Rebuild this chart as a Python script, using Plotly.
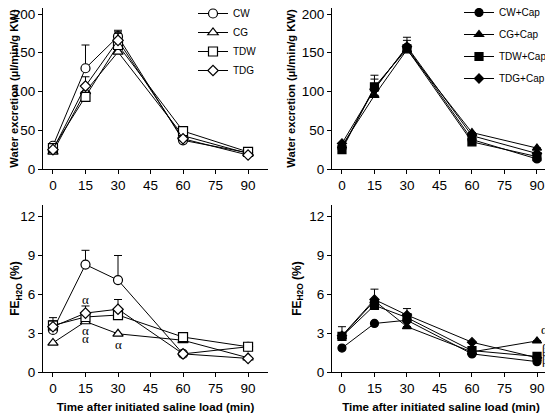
import plotly.graph_objects as go

time = [0, 15, 30, 60, 90]
x_ticks = [0, 15, 30, 45, 60, 75, 90]

# Top-left: water excretion (µl/min/g KW), no capsaicin
we_names = ["CW", "CG", "TDW", "TDG"]
we_cw = [30, 130, 171, 37, 21]
we_cg = [22, 100, 151, 43, 20]
we_tdw = [27, 93, 160, 49, 22]
we_tdg = [25, 107, 166, 39, 18]
we_cw_err = [None, 30, 8, None, None]
we_cg_err = [None, None, None, None, None]
we_tdw_err = [None, None, 15, None, None]
we_tdg_err = [None, 12, 11, None, None]

# Top-right: water excretion, with capsaicin
wec_names = ["CW+Cap", "CG+Cap", "TDW+Cap", "TDG+Cap"]
wec_cw = [27, 104, 157, 38, 13]
wec_cg = [30, 95, 154, 47, 27]
wec_tdw = [25, 106, 155, 35, 16]
wec_tdg = [33, 103, 158, 43, 20]
wec_cw_err = [None, None, None, None, None]
wec_cg_err = [None, None, None, None, None]
wec_tdw_err = [None, 15, 15, None, None]
wec_tdg_err = [None, 13, 8, None, None]

# Bottom-left: FE_H2O (%), no capsaicin
fe_cw = [3.25, 8.3, 7.1, 1.4, 1.95]
fe_cg = [2.25, 3.9, 2.95, 2.45, 1.1]
fe_tdw = [3.6, 4.25, 4.4, 2.7, 1.95]
fe_tdg = [3.5, 4.55, 4.85, 1.4, 1.05]
fe_cw_err = [None, 1.1, 1.9, None, None]
fe_cg_err = [None, None, None, None, None]
fe_tdw_err = [0.6, None, None, None, None]
fe_tdg_err = [0.45, 0.55, 0.75, None, None]

# Bottom-right: FE_H2O (%), with capsaicin
fec_cw = [1.85, 3.75, 4.0, 1.4, 0.8]
fec_cg = [2.75, 5.5, 3.5, 1.55, 2.4]
fec_tdw = [2.75, 5.15, 4.2, 1.65, 1.2]
fec_tdg = [2.8, 5.6, 4.4, 2.3, 1.1]
fec_cw_err = [None, None, None, None, None]
fec_cg_err = [None, None, None, None, None]
fec_tdw_err = [0.75, None, 0.7, None, None]
fec_tdg_err = [None, 0.8, None, None, None]

# significance marks
sig_left_x = [15, 15, 15, 30]
sig_left_y = [5.6, 3.2, 2.55, 2.15]
sig_left_text = ["α", "α", "α", "α"]
sig_right_x = [93.5, 93.8, 93.8]
sig_right_y = [3.3, 1.85, 1.0]
sig_right_text = ["α", "β", "β"]

open_symbols = ["circle-open", "triangle-up-open", "square-open", "diamond-open"]
filled_symbols = ["circle", "triangle-up", "square", "diamond"]
open_sizes = [9, 9, 9, 8]
filled_sizes = [8, 8, 8, 7]

fig = go.Figure()


def add_panel(series, errs, names, symbols, sizes, xa, ya, legend, show, grp):
    for i, (vals, err, name, sym, sz) in enumerate(zip(series, errs, names, symbols, sizes)):
        filled = not sym.endswith("open")
        fig.add_trace(go.Scatter(
            x=time, y=vals, name=name, mode="lines+markers",
            xaxis=xa, yaxis=ya, legend=legend, showlegend=show,
            legendgroup=f"{grp}{i}",
            line=dict(color="black", width=1),
            marker=dict(symbol=sym.replace("-open", ""), size=sz,
                        color="black" if filled else "white",
                        line=dict(color="black", width=1.2)),
            error_y=dict(type="data", array=err, arrayminus=[0] * len(err),
                         symmetric=False, color="black", thickness=1, width=4),
            cliponaxis=False,
        ))


add_panel([we_cw, we_cg, we_tdw, we_tdg],
          [we_cw_err, we_cg_err, we_tdw_err, we_tdg_err],
          we_names, open_symbols, open_sizes, "x", "y", "legend", True, "a")
add_panel([wec_cw, wec_cg, wec_tdw, wec_tdg],
          [wec_cw_err, wec_cg_err, wec_tdw_err, wec_tdg_err],
          wec_names, filled_symbols, filled_sizes, "x2", "y2", "legend2", True, "b")
add_panel([fe_cw, fe_cg, fe_tdw, fe_tdg],
          [fe_cw_err, fe_cg_err, fe_tdw_err, fe_tdg_err],
          we_names, open_symbols, open_sizes, "x3", "y3", "legend", False, "c")
add_panel([fec_cw, fec_cg, fec_tdw, fec_tdg],
          [fec_cw_err, fec_cg_err, fec_tdw_err, fec_tdg_err],
          wec_names, filled_symbols, filled_sizes, "x4", "y4", "legend2", False, "d")

annotations = []
for xv, yv, t in zip(sig_left_x, sig_left_y, sig_left_text):
    annotations.append(dict(x=xv, y=yv, xref="x3", yref="y3", text=t, showarrow=False,
                            font=dict(family="Liberation Serif", size=13, color="black")))
for xv, yv, t in zip(sig_right_x, sig_right_y, sig_right_text):
    annotations.append(dict(x=xv, y=yv, xref="x4", yref="y4", text=t, showarrow=False,
                            font=dict(family="Liberation Serif", size=13, color="black")))

# page has an 8px body margin; work in screen pixels and shift by OFF
OFF = 8
W, H = 553 - OFF, 416 - OFF
ML, MR, MT, MB = 43 - OFF, 3, 0, H - (372 - OFF)
PW, PH = W - ML - MR, H - MT - MB


def dom_x(a, b):
    return [(a - OFF - ML) / PW, (b - OFF - ML) / PW]


def dom_y(top, bottom):
    return [(H - MB - (bottom - OFF)) / PH, (H - MB - (top - OFF)) / PH]


def pos_x(px):
    return (px - OFF - ML) / PW


def pos_y(py):
    return (H - MB - (py - OFF)) / PH


axis_common = dict(showline=True, linecolor="black", linewidth=1, ticks="outside",
                   ticklen=4, tickwidth=1, tickcolor="black", showgrid=False,
                   zeroline=False, automargin=False, ticklabeloverflow="allow",
                   tickfont=dict(size=13.5, color="black"))
ytitle_font = dict(size=11.2, color="black", family="Liberation Sans")
xtitle_font = dict(size=11.6, color="black", family="Liberation Sans")
fe_font = dict(size=12, color="black", family="Liberation Sans")

xt = dict(tickmode="array", tickvals=x_ticks, ticktext=[str(v) for v in x_ticks])
top_range = [0, (169 - 8) / 0.775]

fig.update_layout(
    width=W, height=H, margin=dict(l=ML, r=MR, t=MT, b=MB, autoexpand=False),
    paper_bgcolor="white", plot_bgcolor="white",
    font=dict(family="Liberation Sans", color="black"),
    xaxis=dict(domain=dom_x(43, 268), range=[-4.6, 99.2], anchor="y", **xt, **axis_common),
    yaxis=dict(domain=dom_y(8, 169), range=top_range, anchor="x",
               tickvals=[0, 50, 100, 150, 200],
               title=dict(text="<b>Water excretion (µl/min/g KW)</b>", font=ytitle_font, standoff=3),
               **axis_common),
    xaxis2=dict(domain=dom_x(332, 548), range=[-4.6, 95.1], anchor="y2", **xt, **axis_common),
    yaxis2=dict(domain=dom_y(8, 169), range=top_range, anchor="x2",
                tickvals=[0, 50, 100, 150, 200],
                title=dict(text="<b>Water excretion (µl/min/g KW)</b>", font=ytitle_font, standoff=3),
                **axis_common),
    xaxis3=dict(domain=dom_x(43, 268), range=[-4.6, 99.2], anchor="y3", **xt,
                title=dict(text="<b>Time after initiated saline load (min)</b>", font=xtitle_font, standoff=7),
                **axis_common),
    yaxis3=dict(domain=dom_y(205, 372), range=[0, 12.9], anchor="x3",
                tickvals=[0, 3, 6, 9, 12],
                title=dict(text="<b>FE<sub>H2O</sub> (%)</b>", font=fe_font, standoff=5),
                **axis_common),
    xaxis4=dict(domain=dom_x(332, 550), range=[-4.6, 96], anchor="y4", **xt,
                title=dict(text="<b>Time after initiated saline load (min)</b>", font=xtitle_font, standoff=7),
                **axis_common),
    yaxis4=dict(domain=dom_y(205, 372), range=[0, 12.9], anchor="x4",
                tickvals=[0, 3, 6, 9, 12],
                title=dict(text="<b>FE<sub>H2O</sub> (%)</b>", font=fe_font, standoff=5),
                **axis_common),
    legend=dict(x=pos_x(193), y=pos_y(-1), xanchor="left", yanchor="top",
                bgcolor="rgba(0,0,0,0)", font=dict(size=10), itemwidth=30,
                tracegroupgap=0, traceorder="normal"),
    legend2=dict(x=pos_x(459), y=pos_y(-2), xanchor="left", yanchor="top",
                 bgcolor="rgba(0,0,0,0)", font=dict(size=10), itemwidth=30,
                 tracegroupgap=3, traceorder="grouped"),
    annotations=annotations,
)

fig.write_html("out.html")
